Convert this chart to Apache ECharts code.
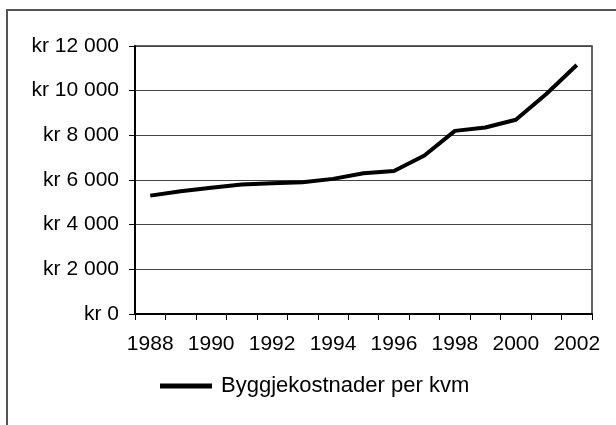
<!DOCTYPE html>
<html>
<head>
<meta charset="utf-8">
<script src="https://cdn.jsdelivr.net/npm/echarts@6/dist/echarts.min.js"></script>
<style>
  html, body { margin: 0; padding: 0; background: #fff; }
  #chart { width: 616px; height: 425px; }
</style>
</head>
<body>
<div id="chart"></div>
<script>
// byggjekostnader per kvm, lest av bildet
var years = ['1988', '1989', '1990', '1991', '1992', '1993', '1994', '1995',
             '1996', '1997', '1998', '1999', '2000', '2001', '2002'];
var costs = [5300, 5500, 5650, 5800, 5850, 5900, 6050, 6300,
             6400, 7100, 8200, 8350, 8700, 9850, 11150];
var seriesName = 'Byggjekostnader per kvm';

var font = "'Liberation Sans', Arial, sans-serif";

function krFormat(v) {
    var s = String(v);
    var out = '';
    while (s.length > 3) {
        out = ' ' + s.slice(-3) + out;
        s = s.slice(0, -3);
    }
    return 'kr ' + s + out;
}

var myChart = echarts.init(document.getElementById('chart'));
myChart.setOption({
    animation: false,
    backgroundColor: '#fff',
    textStyle: { fontFamily: font },
    graphic: [{
        type: 'rect',
        shape: { x: 7, y: 10, width: 700, height: 500 },
        style: { fill: 'none', stroke: '#555', lineWidth: 2 },
        silent: true
    }],
    grid: {
        left: 135,
        right: 24,
        top: 46,
        bottom: 111,
        show: true,
        borderColor: '#333',
        borderWidth: 1.5,
        containLabel: false
    },
    legend: {
        data: [{ name: seriesName, icon: 'rect' }],
        left: 155,
        top: 370,
        itemWidth: 52,
        itemHeight: 5,
        itemStyle: { color: '#000' },
        textStyle: {
            fontFamily: font,
            fontSize: 22,
            color: '#000',
            padding: [0, 0, 0, 4]
        }
    },
    xAxis: {
        type: 'category',
        data: years,
        boundaryGap: true,
        axisLine: { lineStyle: { color: '#000', width: 2 } },
        axisTick: {
            show: true,
            interval: 0,
            length: 6,
            lineStyle: { color: '#000', width: 1 }
        },
        axisLabel: {
            interval: 1,
            margin: 20,
            fontFamily: font,
            fontSize: 21,
            color: '#000'
        },
        splitLine: { show: false }
    },
    yAxis: {
        type: 'value',
        min: 0,
        max: 12000,
        interval: 2000,
        axisLine: { show: true, lineStyle: { color: '#000', width: 2 } },
        axisTick: {
            show: true,
            length: 6,
            lineStyle: { color: '#000', width: 1 }
        },
        axisLabel: {
            margin: 16,
            fontFamily: font,
            fontSize: 21,
            color: '#000',
            formatter: krFormat
        },
        splitLine: { lineStyle: { color: '#444', width: 1 } }
    },
    series: [{
        name: seriesName,
        type: 'line',
        data: costs,
        symbol: 'none',
        showSymbol: false,
        lineStyle: { color: '#000', width: 4 },
        itemStyle: { color: '#000' }
    }]
});
</script>
</body>
</html>
